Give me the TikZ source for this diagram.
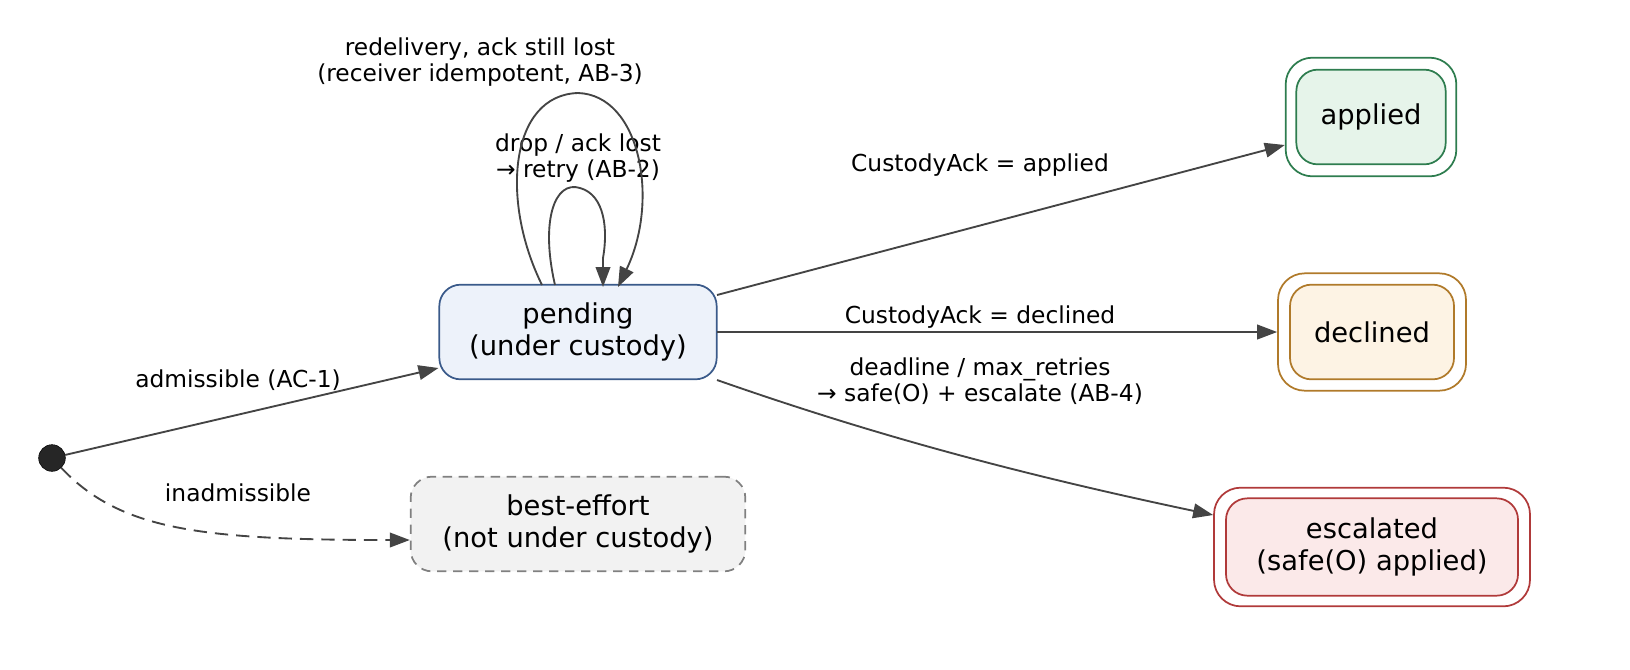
\documentclass[tikz,border=0pt]{standalone}
\usepackage{fontspec}
\setmainfont{DejaVu Sans}
\usetikzlibrary{arrows.meta}
\definecolor{edge}{HTML}{444444}
\definecolor{pS}{HTML}{3A5A8A}\definecolor{pF}{HTML}{EDF2FA}
\definecolor{aS}{HTML}{2E7D4F}\definecolor{aF}{HTML}{E6F4EA}
\definecolor{dS}{HTML}{B07A2A}\definecolor{dF}{HTML}{FDF3E4}
\definecolor{xS}{HTML}{B03A3A}\definecolor{xF}{HTML}{FBE9E9}
\begin{document}
\begin{tikzpicture}[x=0.75pt,y=-0.75pt,
  st/.style={rounded corners=16pt,draw,line width=1.3pt,align=center,font=\fontsize{20.5}{24}\selectfont,inner sep=0pt},
  outer/.style={rounded corners=20pt,draw,line width=1.3pt,inner sep=0pt},
  e/.style={draw=edge,line width=1.4pt,-{Triangle[length=15pt,width=11pt]}},
  lb/.style={font=\fontsize{17.5}{20}\selectfont,align=center,text=black}]
\node[circle,fill=black!85,draw=black,minimum size=20pt,inner sep=0pt] (s) at (52,458) {};
\node[st,draw=pS,fill=pF,minimum width=208pt,minimum height=71pt] (p) at (578,332) {pending\\(under custody)};
\node[st,draw=gray,fill=black!5,dashed,dash pattern=on 7pt off 5pt,minimum width=251pt,minimum height=71pt] (b) at (578,524) {best-effort\\(not under custody)};
\node[outer,draw=aS,minimum width=128pt,minimum height=89pt] (ao) at (1371,117) {};
\node[st,draw=aS,fill=aF,minimum width=112pt,minimum height=71pt] (a) at (1371,117) {applied};
\node[outer,draw=dS,minimum width=141pt,minimum height=88pt] (do) at (1372,332) {};
\node[st,draw=dS,fill=dF,minimum width=123pt,minimum height=71pt] (d) at (1372,332) {declined};
\node[outer,draw=xS,minimum width=237pt,minimum height=89pt] (xo) at (1372,547) {};
\node[st,draw=xS,fill=xF,minimum width=219pt,minimum height=73pt] (x) at (1372,547) {escalated\\(safe(O) applied)};
\draw[e] (s) -- (p.west|-0,368);
\node[lb] at (238,380) {admissible (AC-1)};
\draw[e,dashed,dash pattern=on 10pt off 6pt] (s) .. controls (120,530) and (200,540) .. (b.west|-0,540);
\node[lb] at (238,493) {inadmissible};
\draw[e] (555,285) .. controls (540,220) and (555,180) .. (580,188) .. controls (605,195) and (608,230) .. (603,258) -- (603,287);
\node[lb] at (578,158) {drop / ack lost\\→ retry (AB-2)};
\draw[e] (542,285) .. controls (500,200) and (510,95) .. (578,93) .. controls (640,95) and (660,200) .. (618,287);
\node[lb] at (480,62) {redelivery, ack still lost\\(receiver idempotent, AB-3)};
\draw[e] (717,295) -- (ao.west|-0,145);
\node[lb] at (980,165) {CustodyAck = applied};
\draw[e] (717,332) -- (do.west);
\node[lb] at (980,317) {CustodyAck = declined};
\draw[e] (717,380) .. controls (860,430) and (1000,470) .. (xo.west|-0,515);
\node[lb] at (980,381) {deadline / max\_retries\\→ safe(O) + escalate (AB-4)};
\pgfresetboundingbox
\useasboundingbox (0,0) rectangle (1630,669);
\end{tikzpicture}
\end{document}
